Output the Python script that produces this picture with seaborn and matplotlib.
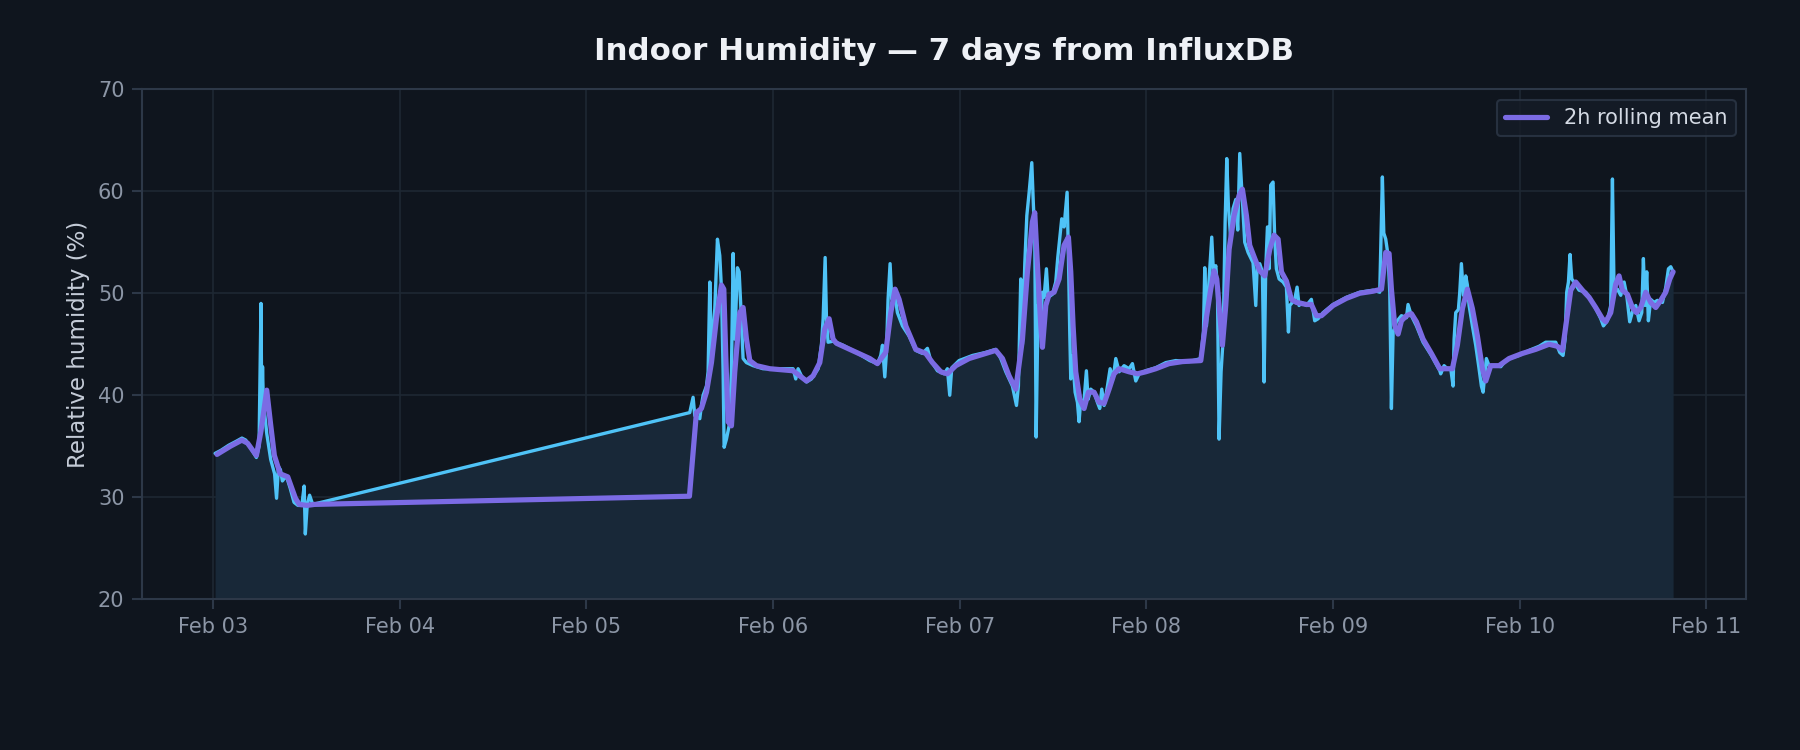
import pandas as pd
import numpy as np
import matplotlib
matplotlib.use("Agg")
import matplotlib.pyplot as plt
import matplotlib.dates as mdates
import seaborn as sns

# Raw humidity readings (hours after Feb 03 00:00, % RH)
raw_hours = [
    0.25, 1.0, 2.0, 3.0, 3.7, 4.2, 5.0, 5.56, 5.9, 6.15, 6.25, 6.35, 6.45, 6.9, 7.4,
    7.9, 8.15, 8.4, 8.65, 8.9, 9.4, 9.9, 10.4, 10.9, 11.4, 11.7, 11.85, 12.1, 12.4, 12.8,
    61.28, 61.71, 61.93, 62.57, 62.78, 63.0, 63.43, 63.64, 63.86, 64.07, 64.5, 64.84,
    65.14, 65.36, 65.57, 65.7, 66.0, 66.34, 66.64, 66.86, 67.07, 67.41, 67.63, 67.84,
    68.14, 68.57, 69.43, 70.71, 72.43, 74.57, 74.91, 75.21, 75.64, 76.29, 76.93, 77.79,
    78.21, 78.43, 78.69, 78.86, 79.07, 79.71, 81.0, 82.71, 84.43,
    85.41, 85.84, 86.06, 86.36, 86.57, 86.78, 87.04, 87.26, 87.56, 87.98, 88.63, 89.48,
    90.34, 91.2, 91.84, 92.27, 93.13, 93.99, 94.41, 94.71, 94.97, 95.91, 97.63, 99.34,
    100.63, 101.27, 101.92, 102.77, 103.29, 103.54, 103.84, 104.06, 104.36, 104.62,
    104.92, 105.26, 105.47, 105.64, 105.82, 106.07, 106.42, 106.63, 106.84, 107.14,
    107.36, 107.92, 108.34, 108.6,
    109.11, 109.41, 109.8, 109.97, 110.14, 110.27, 110.49, 110.83, 111.13, 111.34,
    111.56, 111.9, 112.28, 112.5, 112.84, 113.27, 113.7, 114.0, 114.26, 114.56, 114.99,
    115.33, 115.71, 116.06, 116.49, 117.13, 117.77, 118.2, 118.63, 119.06, 119.91,
    121.2, 122.49, 123.77, 125.49, 126.99, 127.33, 127.5, 127.72, 128.06, 128.4, 128.62,
    128.92, 129.13, 129.34, 129.6, 129.86, 130.12, 130.33, 130.54, 130.84, 131.14,
    131.49, 131.74, 132.0, 132.26,
    132.64, 133.07, 133.71, 134.06, 134.23, 134.57, 134.91, 135.13, 135.34, 135.56,
    135.77, 135.98, 136.28, 136.5, 136.71, 137.06, 137.57, 138.0, 138.26, 138.43,
    138.77, 139.07, 139.37, 139.63, 139.93, 140.57, 141.21, 141.64, 142.07, 142.71,
    144.0, 145.71, 147.43, 149.14, 150.0, 150.34, 150.52, 150.77, 151.07, 151.29,
    151.5, 151.72, 152.14, 152.79, 153.43, 153.64, 154.07, 154.72, 155.57, 156.64,
    157.72,
    157.84, 158.27, 158.7, 159.13, 159.43, 159.56, 159.77, 160.11, 160.28, 160.5,
    160.76, 161.06, 161.27, 161.49, 161.91, 162.34, 162.77, 163.07, 163.29, 163.54,
    163.71, 164.06, 164.91, 165.56, 166.2, 167.06, 167.91, 169.2, 170.49, 171.34,
    172.63, 173.14, 173.57, 173.83, 174.04, 174.26, 174.47, 174.69, 174.99, 175.63,
    176.49, 177.13, 177.77, 178.42, 178.76, 179.27, 179.7, 179.92, 180.13, 180.56,
    180.99, 181.42, 181.76, 182.14, 182.49, 182.92, 183.34, 183.69, 183.9, 184.11,
    184.33, 184.54, 184.84, 185.27, 185.7, 186.35, 186.78, 187.12, 187.42, 187.72,
]
raw_values = [
    34.3, 34.6, 35.1, 35.5, 35.8, 35.6, 34.6, 33.9, 35.0, 49.0, 38.5, 42.8, 39.5, 36.2, 33.7,
    32.3, 29.9, 33.0, 32.7, 31.6, 32.1, 30.9, 29.5, 29.2, 29.2, 31.1, 26.4, 29.3, 30.2, 29.3,
    38.3, 39.8, 38.0, 37.7, 39.0, 40.0, 40.9, 42.3, 51.1, 43.9, 48.5, 55.3,
    53.7, 50.4, 42.3, 34.9, 35.7, 37.0, 42.3, 53.9, 45.5, 52.5, 52.1, 48.8,
    43.6, 43.2, 42.9, 42.6, 42.6, 42.6, 41.6, 42.6, 41.9, 41.3, 41.6, 42.6,
    44.9, 47.5, 53.5, 47.5, 45.2, 45.3, 44.9, 44.2, 43.4,
    43.1, 43.9, 44.9, 41.8, 44.2, 49.4, 52.9, 49.4, 50.4, 48.1, 46.8, 45.8,
    44.4, 44.1, 44.6, 43.4, 42.4, 42.1, 42.6, 40.0, 42.7, 43.4, 43.9, 44.2,
    44.5, 43.6, 42.3, 40.9, 39.0, 40.9, 51.4, 45.0, 52.9, 57.6,
    59.9, 62.8, 58.6, 56.0, 35.9, 48.8, 47.5, 50.1, 49.6, 52.4,
    49.6, 49.9, 51.1, 53.5,
    57.3, 56.5, 59.9, 53.7, 46.2, 41.6, 43.9, 40.3, 39.3, 37.4,
    39.6, 38.7, 42.4, 39.6, 40.6, 40.3, 39.3, 38.7, 40.6, 39.0, 40.9,
    42.6, 41.6, 43.6, 42.3, 42.9, 42.6, 43.1, 41.4, 42.1, 42.4,
    42.7, 43.2, 43.4, 43.3, 43.6, 46.2, 52.5, 46.8, 51.4, 55.5, 52.0,
    52.7, 50.5, 35.7, 42.3, 45.5, 57.0, 63.2, 58.6, 55.3, 58.3,
    59.2, 56.2, 63.7, 60.2,
    55.0, 54.0, 53.0, 48.8, 52.5, 52.9, 52.1, 41.3, 52.4, 56.5,
    52.4, 60.6, 60.9, 55.3, 52.4, 51.4, 51.1, 50.6, 46.2, 48.8,
    49.1, 49.4, 50.6, 48.8, 49.1, 48.8, 49.4, 47.3, 47.5, 48.1,
    48.9, 49.6, 50.1, 50.3, 50.1, 61.4, 55.9, 55.3, 53.7, 50.1,
    38.7, 46.2, 47.2, 47.8, 47.6, 48.9, 47.8, 46.8, 45.2, 43.9,
    42.4,
    42.1, 42.9, 42.6, 42.6, 40.9, 45.5, 48.1, 48.4, 50.0, 52.9,
    49.8, 51.7, 50.8, 48.8, 46.8, 44.9, 42.6, 40.9, 40.3, 42.3,
    43.6, 42.9, 42.9, 42.8, 43.4, 43.7, 43.9, 44.4, 44.8, 45.2,
    45.2, 44.2, 43.9, 45.5, 50.1, 51.1, 53.8, 51.4, 51.1, 50.3,
    50.1, 49.4, 48.5, 47.5, 46.8, 47.3, 48.8, 61.2, 50.1, 50.4,
    49.8, 51.1, 49.8, 47.2, 48.2, 48.8, 47.3, 48.1, 53.4, 48.8,
    52.1, 47.3, 49.4, 49.1, 49.3, 49.1, 50.6, 52.4, 52.6, 52.1,
]

# 2h rolling mean (hours after Feb 03 00:00, % RH)
mean_hours = [
    0.49, 2.21, 3.69, 4.43, 5.56, 6.15, 6.89, 7.38, 7.87, 8.61, 9.59, 10.58, 11.07, 12.05, 13.03,
    61.24, 62.14, 62.78, 63.43, 64.07, 64.71, 65.36, 65.66, 65.91, 66.21, 66.64, 67.07,
    67.71, 68.14, 68.57, 69.0, 69.86, 71.57, 74.57, 75.43, 76.29, 77.14, 78.0, 78.64,
    79.2, 79.71, 80.14, 81.86, 84.43,
    85.41, 86.48, 87.13, 87.68, 88.2, 89.06, 90.34, 91.63, 92.49, 93.56, 94.41, 95.49,
    97.2, 100.63, 101.49, 102.34, 103.2, 104.06, 104.7, 105.34, 105.64, 105.99, 106.42,
    106.63, 107.06, 107.49, 108.13, 108.77,
    109.41, 109.97, 110.27, 110.57, 110.91, 111.43, 111.98, 112.54, 113.27, 113.91,
    114.56, 115.2, 115.84, 116.49, 117.77, 118.84, 119.91, 121.2, 122.91, 124.63,
    126.99, 127.63, 128.27, 128.7, 129.04, 129.34, 129.77, 130.2, 130.63, 131.27,
    131.92, 132.34,
    132.86, 133.28, 133.93, 134.57, 135.21, 135.86, 136.41, 136.93, 137.36, 138.0,
    138.64, 139.29, 140.57, 141.21, 141.86, 142.5, 144.0, 145.71, 147.43, 149.14,
    150.22, 150.77, 151.2, 151.5, 151.93, 152.36, 152.79, 153.43, 154.07, 154.72,
    155.57, 156.64, 157.72,
    158.06, 159.34, 159.98, 160.63, 161.27, 161.91, 162.56, 163.2, 163.63, 164.27,
    165.34, 166.63, 168.34, 170.06, 171.77, 172.84, 173.49, 173.92, 174.56, 175.2,
    176.06, 176.92, 177.77, 178.63, 179.06, 179.7, 180.34, 180.77, 181.2, 181.84,
    182.49, 183.0, 183.56, 184.2, 184.84, 185.49, 186.13, 186.77, 187.29, 187.72,
]
mean_values = [
    34.2, 35.0, 35.6, 35.3, 34.1, 36.5, 40.5, 37.2, 34.1, 32.3, 32.0, 29.9, 29.3, 29.2, 29.3,
    30.1, 38.3, 38.7, 40.3, 43.2, 47.5, 50.8, 50.4, 43.9, 37.4, 37.0, 42.3,
    48.1, 48.6, 45.5, 43.4, 42.9, 42.6, 42.4, 41.9, 41.4, 41.9, 43.2, 46.5,
    47.5, 45.5, 45.1, 44.5, 43.6,
    43.1, 44.2, 48.1, 50.4, 49.4, 46.8, 44.5, 44.1, 43.2, 42.3, 42.1, 42.9,
    43.6, 44.4, 43.6, 41.9, 40.6, 45.5, 52.1, 57.0, 57.9, 52.7, 46.8,
    44.7, 48.8, 49.9, 50.1, 51.4,
    54.7, 55.5, 52.1, 46.8, 42.3, 39.6, 38.7, 40.3, 40.3, 39.3,
    39.2, 40.6, 42.1, 42.6, 42.3, 42.1, 42.3, 42.6, 43.1, 43.3,
    43.4, 47.2, 50.4, 52.2, 51.4, 48.8, 44.9, 48.8, 54.3, 57.6,
    59.6, 60.2,
    57.6, 54.7, 53.4, 52.2, 51.7, 54.3, 55.7, 55.3, 52.1, 51.2,
    49.4, 49.1, 48.9, 48.9, 47.8, 47.8, 48.8, 49.5, 50.0, 50.2,
    50.4, 54.0, 53.9, 50.4, 46.8, 46.0, 47.3, 47.8, 48.0, 47.2,
    45.5, 44.1, 42.6,
    42.6, 42.6, 44.9, 48.5, 50.4, 48.5, 45.8, 42.6, 41.4, 42.9,
    42.9, 43.6, 44.1, 44.5, 45.0, 44.8, 44.4, 46.8, 50.3, 51.1,
    50.3, 49.6, 48.6, 47.5, 47.2, 48.1, 50.9, 51.7, 50.3, 49.9,
    48.6, 48.1, 48.6, 50.1, 49.1, 48.6, 49.3, 50.1, 51.4, 52.1,
]

start = pd.Timestamp("2025-02-03 00:00")
raw = pd.DataFrame({"time": start + pd.to_timedelta(raw_hours, unit="h"), "humidity": raw_values})
rolling = pd.DataFrame({"time": start + pd.to_timedelta(mean_hours, unit="h"), "humidity": mean_values})

bg = "#0f151e"
grid_c = "#1e2833"
spine_c = "#2d3848"
tick_c = "#8c96a6"

sns.set_theme(style="dark")
plt.rcParams.update({
    "figure.facecolor": bg,
    "axes.facecolor": bg,
    "axes.edgecolor": spine_c,
    "font.family": ["DejaVu Sans"],
})

fig, ax = plt.subplots(figsize=(12, 5), dpi=150)
fig.subplots_adjust(left=0.079, right=0.970, top=0.881, bottom=0.201)

ax.fill_between(raw["time"], raw["humidity"], 20, color="#182838", alpha=1.0, zorder=1, linewidth=0)
sns.lineplot(data=raw, x="time", y="humidity", ax=ax, color="#4fc3f7", linewidth=1.6,
             estimator=None, sort=False, zorder=2, legend=False)
sns.lineplot(data=rolling, x="time", y="humidity", ax=ax, color="#7b6be4", linewidth=2.5,
             estimator=None, sort=False, zorder=3, label="2h rolling mean")

ax.set_ylim(20, 70)
ax.xaxis.set_major_locator(mdates.DayLocator())
ax.xaxis.set_major_formatter(mdates.DateFormatter("%b %d"))
ax.grid(True, color=grid_c, linewidth=0.8)
for s in ax.spines.values():
    s.set_color(spine_c)
    s.set_linewidth(1.0)
ax.tick_params(axis="both", colors=spine_c, labelcolor=tick_c, labelsize=10,
               length=5, width=1, direction="out", bottom=True, left=True)

ax.set_xlabel("")
ax.set_ylabel("Relative humidity (%)", color="#c5ccd8", fontsize=11)
ax.set_title("Indoor Humidity \u2014 7 days from InfluxDB", color="#eef1f6",
             fontsize=14.8, fontweight="bold", pad=14)

leg = ax.legend(loc="upper right", frameon=True, fontsize=10)
leg.get_frame().set_facecolor("#151c27")
leg.get_frame().set_edgecolor(spine_c)
for t in leg.get_texts():
    t.set_color("#d4dae4")

plt.savefig("out.png", dpi=150, facecolor=bg)
